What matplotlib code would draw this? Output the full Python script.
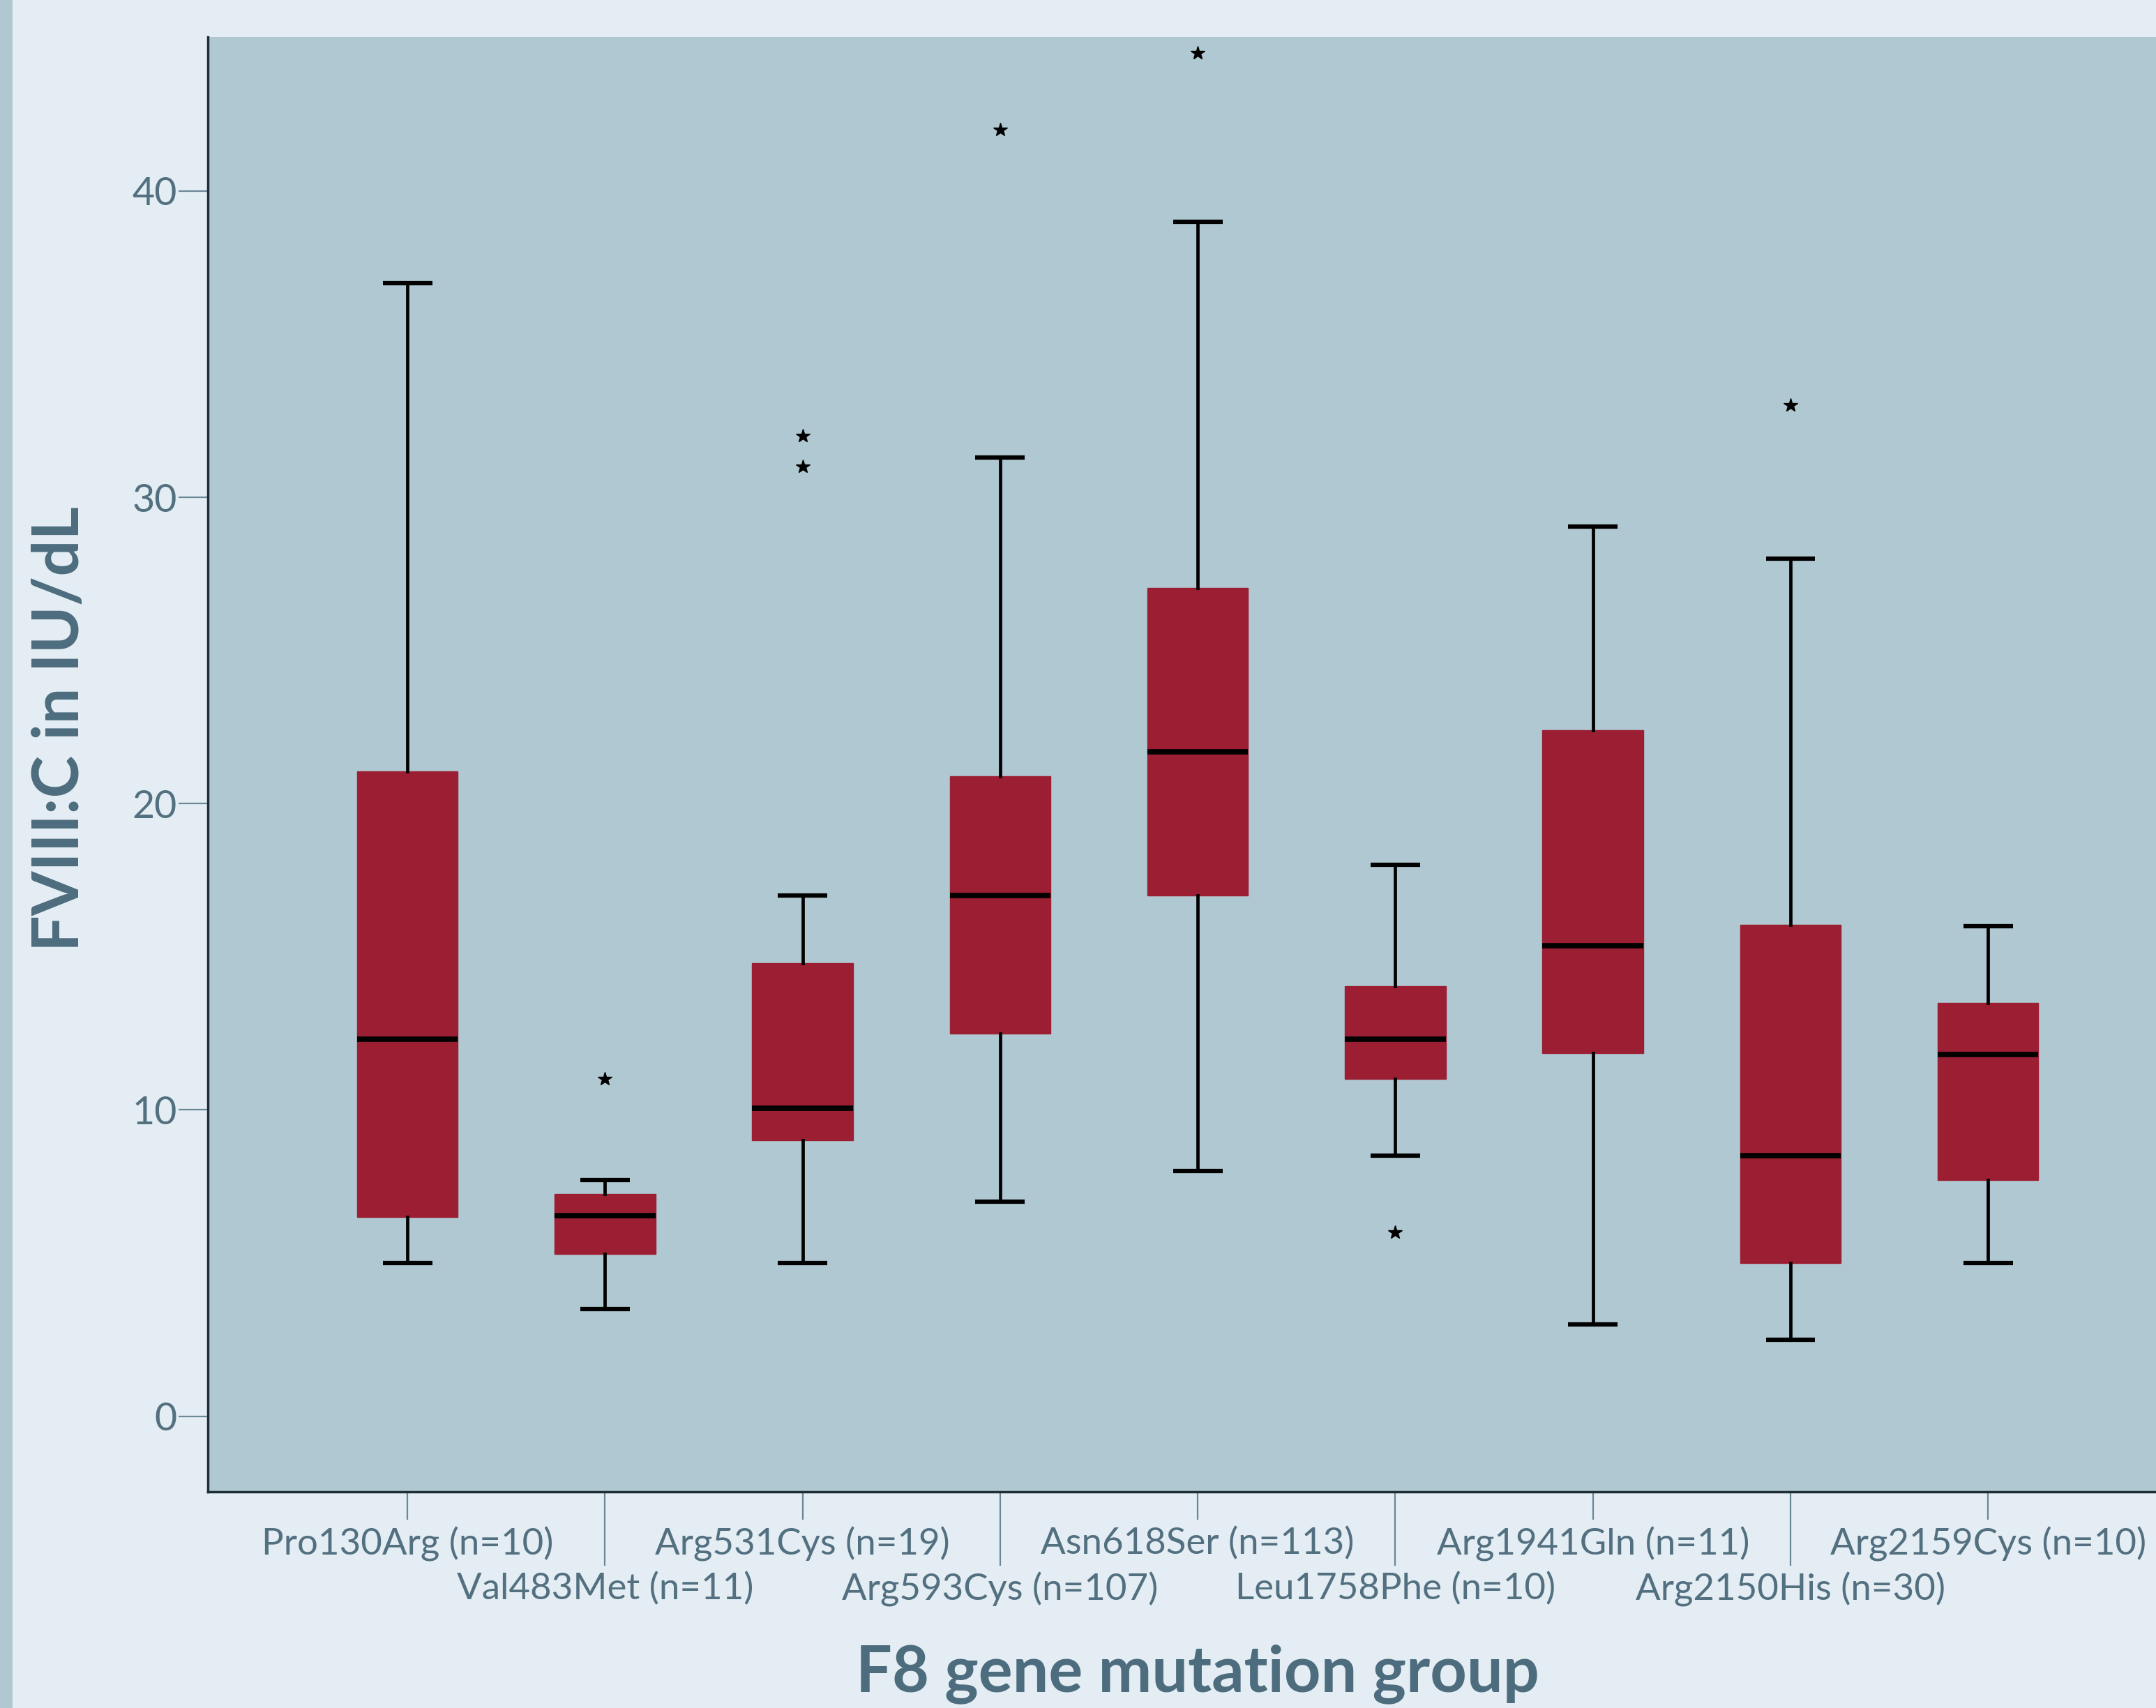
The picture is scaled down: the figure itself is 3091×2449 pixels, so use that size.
import matplotlib
matplotlib.use("Agg")
import matplotlib.pyplot as plt
from matplotlib.patches import Rectangle

# ---- data ----
labels = ["Pro130Arg (n=10)", "Val483Met (n=11)", "Arg531Cys (n=19)", "Arg593Cys (n=107)",
          "Asn618Ser (n=113)", "Leu1758Phe (n=10)", "Arg1941Gln (n=11)", "Arg2150His (n=30)",
          "Arg2159Cys (n=10)"]
whislo = [5.0, 3.5, 5.0, 7.0, 8.0, 8.5, 3.0, 2.5, 5.0]
q1 = [6.5, 5.3, 9.0, 12.5, 17.0, 11.0, 11.85, 5.0, 7.7]
med = [12.3, 6.55, 10.05, 17.0, 21.7, 12.3, 15.35, 8.5, 11.8]
q3 = [21.05, 7.25, 14.8, 20.9, 27.05, 14.05, 22.4, 16.05, 13.5]
whishi = [37.0, 7.7, 17.0, 31.3, 39.0, 18.0, 29.05, 28.0, 16.0]
outliers = [[], [11.0], [32.0, 31.0], [42.0], [44.5], [6.0], [], [33.0], []]
yticks = [0, 10, 20, 30, 40]
xlabel = "F8 gene mutation group"
ylabel = "FVIII:C in IU/dL"

# ---- style ----
fig_bg = "#e4edf3"
ax_bg = "#b0c8d1"
box_col = "#9b1e32"
txt_col = "#527080"
spine_col = "#1f2e36"
tick_col = "#6a8797"

W, H, DPI = 3091, 2449, 100
fig = plt.figure(figsize=(W / DPI, H / DPI), dpi=DPI, facecolor=fig_bg)
plt.rcParams['font.family'] = ['Lato', 'DejaVu Sans']

# left colour strip
fig.patches.append(Rectangle((0, 0), 18 / W, 1, transform=fig.transFigure,
                             facecolor=ax_bg, edgecolor='none', zorder=0))

ax = fig.add_axes([298 / W, 1 - 2139 / H, 1 - 298 / W, (2139 - 53) / H])
ax.set_facecolor(ax_bg)

stats = []
for i in range(len(labels)):
    stats.append(dict(med=med[i], q1=q1[i], q3=q3[i], whislo=whislo[i],
                      whishi=whishi[i], fliers=outliers[i]))

pos = list(range(len(labels)))
ax.bxp(stats, positions=pos, widths=0.51, patch_artist=True, showfliers=True,
       boxprops=dict(facecolor=box_col, edgecolor=box_col, linewidth=1),
       medianprops=dict(color="black", linewidth=5.5, solid_capstyle='butt'),
       whiskerprops=dict(color="black", linewidth=3.4),
       capprops=dict(color="black", linewidth=4.5, solid_capstyle='butt'),
       capwidths=0.25,
       flierprops=dict(marker='*', markerfacecolor='black', markeredgecolor='black',
                       markersize=15, linestyle='none'))

ax.set_xlim(-1.01, 8.85)
ax.set_ylim(-2.47, 45.03)

for s in ['top', 'right']:
    ax.spines[s].set_visible(False)
for s in ['left', 'bottom']:
    ax.spines[s].set_color(spine_col)
    ax.spines[s].set_linewidth(2.5)

ax.set_yticks(yticks)
ax.set_yticklabels([str(v) for v in yticks], fontsize=40, color=txt_col)
ax.tick_params(axis='y', length=30, width=1.6, color=tick_col, pad=2)

major = pos[0::2]
minor = pos[1::2]
ax.set_xticks(major)
ax.set_xticklabels([labels[i] for i in major], fontsize=38, color=txt_col)
ax.set_xticks(minor, minor=True)
ax.set_xticklabels([labels[i] for i in minor], minor=True, fontsize=38, color=txt_col)
ax.tick_params(axis='x', which='major', length=29, width=1.6, color=tick_col, pad=7)
ax.tick_params(axis='x', which='minor', length=76, width=1.6, color=tick_col, pad=7)

fig.text(0.5555, 0.0098, xlabel, ha='center', va='baseline', fontsize=66,
         fontweight='bold', color="#4d6d7e")
fig.text(0.028, 1 - 1045 / H, ylabel, ha='center', va='center', rotation=90,
         fontsize=66, fontweight='bold', color="#4d6d7e")

fig.savefig("out.png", dpi=DPI, facecolor=fig_bg)
